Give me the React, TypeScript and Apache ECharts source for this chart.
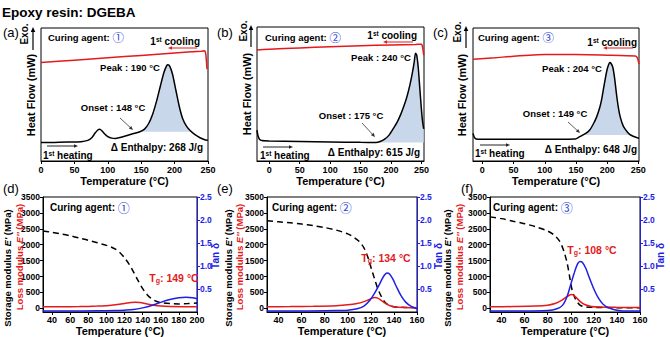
import React, { useEffect, useRef } from "react";
import * as echarts from "echarts";

const SANS = "'Liberation Sans', Arial, Helvetica, sans-serif";
const CJK = "'Noto Sans CJK SC', 'DejaVu Sans', sans-serif";
const RED = "#e41a1c";
const BLUE = "#1e1ee6";
const MARK_BLUE = "#2c44d6";
const FILL = "#c8d8ea";
const ARROW_GREY = "#333333";

// ---------- DSC: first heating / first cooling (temperature °C, heat flow a.u.) ----------
const dscHeatingA = [
  [0, 14], [20, 14], [40, 14.2], [60, 14.5], [70, 15.5], [76, 17.5], [81, 21], [85, 23.3],
  [88, 23.8], [91, 22.8], [95, 20.5], [100, 18.3], [106, 17.2], [112, 17], [120, 17.8],
  [130, 19.3], [140, 20.8], [148, 22], [155, 24], [161, 28], [167, 35], [173, 45], [179, 57],
  [184, 66.5], [188, 71.5], [190, 72.3], [193, 71], [197, 65], [202, 53], [207, 41], [212, 32],
  [218, 26], [224, 22.5], [230, 20], [238, 17.5], [245, 16], [250, 15.5],
];
const dscCoolingA = [
  [0, 74], [50, 75.8], [100, 77.6], [150, 79.4], [200, 81.2], [240, 82.6], [245, 82.9],
  [246.5, 81], [247.5, 76], [248.5, 69],
];
const dscHeatingB = [
  [-20, 23], [-18.5, 19], [-16, 16.3], [-12, 15.3], [0, 15], [50, 14.6], [100, 14.2], [150, 13.9],
  [175, 13.8], [182, 14.5], [190, 16.5], [197, 19.5], [204, 24.5], [210, 29], [216, 35], [221, 41],
  [226, 48], [231, 57], [235, 66], [238, 74], [240, 80.5], [242, 79], [244.5, 70], [247, 55],
  [249.5, 40], [251.5, 30], [253.5, 24],
];
const dscCoolingB = [
  [-20, 82.9], [0, 83.4], [50, 84.4], [100, 85.3], [150, 86], [200, 86.6], [240, 87], [250, 87.1],
  [252, 84], [253.5, 79],
];
const dscHeatingC = [
  [-15, 20.8], [-13, 18], [-10, 16.6], [0, 16.3], [50, 16.3], [100, 16.3], [149, 16.5], [156, 18.3],
  [165, 20.5], [172, 23.3], [178, 28], [183, 33], [188, 40], [191, 46], [194, 54], [197, 62],
  [200, 69], [202, 72], [204, 74], [206, 73.5], [209, 70.5], [212, 62], [215, 50], [218, 40],
  [221, 33], [226, 26], [232, 22], [236, 20], [240, 19], [251, 17],
];
const dscCoolingC = [
  [-15, 76.5], [20, 77.6], [50, 78.8], [100, 80], [150, 80], [200, 79.6], [245, 79], [248, 78],
  [250, 75], [251, 73],
];

// integration windows [from, to] and their baselines for the shaded enthalpy areas
const enthalpyWindows = [[148, 225], [175, 253.5], [155, 236]];
const enthalpyBaselines = [22, 13.8, 19.5];

const dscPeaks = [190, 240, 204];
const dscOnsets = [148, 175, 149];
const dscEnthalpies = [268, 615, 648];
const dscTempRanges = [[0, 250], [-20, 254], [-15, 251]];
const dscTempTicks = [0, 50, 100, 150, 200, 250];

// ---------- DMA: storage modulus, loss modulus (MPa) and tan δ ----------
const storageD = [
  [30, 2430], [40, 2390], [50, 2340], [60, 2280], [70, 2210], [80, 2140], [90, 2060], [100, 1980],
  [105, 1930], [110, 1860], [115, 1750], [120, 1590], [125, 1390], [130, 1140], [135, 870],
  [140, 620], [145, 430], [150, 300], [155, 225], [160, 180], [170, 150], [180, 140], [190, 150],
  [200, 170],
];
const lossD = [
  [30, 50], [50, 50], [70, 55], [90, 70], [100, 85], [110, 110], [120, 150], [127, 185], [132, 195],
  [137, 180], [145, 140], [152, 100], [160, 70], [170, 55], [185, 50], [200, 50],
];
const tanD = [
  [30, 0.02], [60, 0.02], [90, 0.025], [110, 0.03], [120, 0.04], [130, 0.055], [140, 0.09],
  [150, 0.14], [160, 0.21], [170, 0.27], [180, 0.31], [188, 0.32], [195, 0.31], [200, 0.29],
];
const storageE = [
  [30, 2750], [40, 2720], [50, 2690], [60, 2650], [70, 2600], [80, 2540], [90, 2460], [100, 2340],
  [105, 2240], [110, 2100], [114, 1900], [117, 1650], [120, 1300], [123, 950], [126, 620],
  [129, 380], [132, 200], [136, 90], [140, 50], [150, 30], [160, 20],
];
const lossE = [
  [30, 50], [50, 55], [70, 65], [90, 85], [100, 110], [108, 150], [114, 210], [118, 270], [121, 320],
  [123.5, 340], [126, 320], [129, 250], [132, 170], [136, 90], [140, 50], [150, 25], [160, 15],
];
const tanE = [
  [30, 0.02], [60, 0.02], [90, 0.03], [100, 0.04], [108, 0.07], [114, 0.13], [119, 0.25],
  [123, 0.4], [127, 0.58], [130, 0.73], [132, 0.81], [134, 0.85], [136, 0.83], [139, 0.72],
  [142, 0.56], [146, 0.36], [150, 0.22], [155, 0.12], [160, 0.07],
];
const storageF = [
  [30, 2875], [40, 2820], [50, 2740], [60, 2660], [70, 2560], [80, 2430], [85, 2320], [90, 2130],
  [93, 1900], [95, 1680], [97, 1400], [99, 1000], [101, 600], [103, 380], [105, 230], [108, 100],
  [112, 50], [120, 30], [140, 20], [160, 15],
];
const lossF = [
  [30, 50], [50, 55], [70, 70], [80, 100], [87, 160], [92, 250], [96, 350], [99, 420], [100.5, 435],
  [102, 420], [105, 330], [108, 220], [112, 120], [118, 60], [125, 40], [140, 30], [160, 25],
];
const tanF = [
  [30, 0.02], [60, 0.02], [80, 0.03], [88, 0.07], [93, 0.15], [97, 0.35], [100, 0.6], [103, 0.85],
  [106, 1.05], [108, 1.1], [110, 1.08], [113, 0.95], [116, 0.75], [120, 0.5], [124, 0.3],
  [128, 0.17], [133, 0.09], [140, 0.04], [150, 0.02], [160, 0.02],
];

const tgValues = [149, 134, 108];
const dmaTempRanges = [[30, 200], [30, 160], [30, 160]];
const dmaTempTicks = [
  [40, 60, 80, 100, 120, 140, 160, 180, 200],
  [40, 60, 80, 100, 120, 140, 160],
  [40, 60, 80, 100, 120, 140, 160],
];
const modulusTicks = [0, 500, 1000, 1500, 2000, 2500, 3000, 3500];
const tanTicks = [0.5, 1.0, 1.5, 2.0, 2.5];
const circled = ["①", "②", "③"];

const dscGrids = [
  { left: 41, top: 28, width: 167, height: 133 },
  { left: 257, top: 27, width: 167, height: 134 },
  { left: 473, top: 28, width: 166, height: 133 },
];
const dmaGrids = [
  { left: 43, top: 197, width: 154, height: 116 },
  { left: 267, top: 197, width: 150, height: 116 },
  { left: 490, top: 197, width: 150, height: 116 },
];

const tickFont = { fontSize: 9, fontWeight: "bold", fontFamily: SANS, color: "#000" };
const titleFont = { fontSize: 11, fontWeight: "bold", fontFamily: SANS, color: "#000" };

function label(x: number, y: number, text: string, o: any = {}) {
  return {
    type: "text",
    x,
    y,
    rotation: o.rotation || 0,
    silent: true,
    z: 100,
    style: {
      text,
      fill: o.color || "#000",
      fontSize: o.size || 10,
      fontWeight: o.weight || "bold",
      fontFamily: SANS,
      align: o.align || "left",
      verticalAlign: "middle",
      rich: o.rich,
    },
  };
}

function arrow(x1: number, y1: number, x2: number, y2: number, color: string, w = 1, head = 4) {
  const a = Math.atan2(y2 - y1, x2 - x1);
  const hx = x2 - head * Math.cos(a);
  const hy = y2 - head * Math.sin(a);
  const px = -Math.sin(a) * head * 0.45;
  const py = Math.cos(a) * head * 0.45;
  return [
    { type: "line", silent: true, z: 100, shape: { x1, y1, x2: hx, y2: hy }, style: { stroke: color, lineWidth: w } },
    {
      type: "polygon",
      silent: true,
      z: 100,
      shape: { points: [[x2, y2], [hx + px, hy + py], [hx - px, hy - py]] },
      style: { fill: color },
    },
  ];
}

const supRich = {
  n: { fontSize: 10, fontWeight: "bold", fontFamily: SANS, fill: "#000" },
  s: { fontSize: 6.5, fontWeight: "bold", fontFamily: SANS, fill: "#000", verticalAlign: "top" },
};
const agentRich = (size: number) => ({
  c: { fontSize: size + 2, fontFamily: CJK, fill: MARK_BLUE, fontWeight: "normal" },
});
const tgRich = {
  t: { fontSize: 10.5, fontWeight: "bold", fontFamily: SANS, fill: RED },
  g: { fontSize: 7, fontWeight: "bold", fontFamily: SANS, fill: RED, verticalAlign: "bottom" },
};

function buildOption() {
  const grid: any[] = [];
  const xAxis: any[] = [];
  const yAxis: any[] = [];
  const series: any[] = [];
  const graphic: any[] = [];

  const dscHeating = [dscHeatingA, dscHeatingB, dscHeatingC];
  const dscCooling = [dscCoolingA, dscCoolingB, dscCoolingC];

  dscGrids.forEach((g, i) => {
    grid.push({ ...g, show: true, borderColor: "#000", borderWidth: 1, backgroundColor: "transparent" });
    xAxis.push({
      type: "value",
      gridIndex: i,
      min: dscTempRanges[i][0],
      max: dscTempRanges[i][1],
      axisLine: { show: true, onZero: false, lineStyle: { color: "#000", width: 1 } },
      axisTick: { show: true, length: 3, customValues: dscTempTicks, lineStyle: { color: "#000" } },
      axisLabel: { ...tickFont, margin: 4, customValues: dscTempTicks },
      splitLine: { show: false },
      name: "Temperature (°C)",
      nameLocation: "middle",
      nameGap: 14,
      nameTextStyle: titleFont,
    });
    yAxis.push({ type: "value", gridIndex: i, min: 0, max: 100, show: false });

    // shaded reaction enthalpy: area between the heating curve and its baseline
    const [t0, t1] = enthalpyWindows[i];
    const base = enthalpyBaselines[i];
    const inWin = dscHeating[i].filter((p) => p[0] >= t0 && p[0] <= t1);
    series.push({
      type: "custom",
      xAxisIndex: i,
      yAxisIndex: i,
      data: [[t0, base]],
      silent: true,
      z: 1,
      renderItem: (_params: any, api: any) => {
        const top = inWin.map((p) => api.coord([p[0], Math.max(p[1], base)]));
        const bottom = [api.coord([inWin[inWin.length - 1][0], base]), api.coord([inWin[0][0], base])];
        return {
          type: "polygon",
          shape: { points: [...top, ...bottom] },
          style: { fill: FILL },
        };
      },
    });
    series.push({
      type: "line",
      xAxisIndex: i,
      yAxisIndex: i,
      data: dscHeating[i],
      showSymbol: false,
      smooth: 0.2,
      lineStyle: { color: "#000", width: 1.5 },
      silent: true,
      z: 3,
    });
    series.push({
      type: "line",
      xAxisIndex: i,
      yAxisIndex: i,
      data: dscCooling[i],
      showSymbol: false,
      smooth: 0.2,
      lineStyle: { color: RED, width: 1.5 },
      silent: true,
      z: 3,
    });
  });

  const storage = [storageD, storageE, storageF];
  const loss = [lossD, lossE, lossF];
  const tan = [tanD, tanE, tanF];

  dmaGrids.forEach((g, j) => {
    const gi = 3 + j;
    grid.push({ ...g, show: true, borderColor: "#000", borderWidth: 1, backgroundColor: "transparent" });
    xAxis.push({
      type: "value",
      gridIndex: gi,
      min: dmaTempRanges[j][0],
      max: dmaTempRanges[j][1],
      axisLine: { show: true, onZero: false, lineStyle: { color: "#000", width: 1 } },
      axisTick: { show: true, length: 3, customValues: dmaTempTicks[j], lineStyle: { color: "#000" } },
      axisLabel: { ...tickFont, margin: 3, customValues: dmaTempTicks[j] },
      splitLine: { show: false },
      name: "Temperature (°C)",
      nameLocation: "middle",
      nameGap: 13,
      nameTextStyle: titleFont,
    });
  });
  dmaGrids.forEach((g, j) => {
    yAxis.push({
      type: "value",
      gridIndex: 3 + j,
      position: "left",
      min: -115,
      max: 3500,
      axisLine: { show: true, onZero: false, lineStyle: { color: "#000", width: 1 } },
      axisTick: { show: true, length: 3, customValues: modulusTicks, lineStyle: { color: "#000" } },
      axisLabel: {
        ...tickFont,
        fontSize: 8.5,
        margin: 3,
        customValues: modulusTicks,
        formatter: (v: number) => String(v),
      },
      splitLine: { show: false },
    });
  });
  dmaGrids.forEach((g, j) => {
    yAxis.push({
      type: "value",
      gridIndex: 3 + j,
      position: "right",
      min: 0,
      max: 2.5,
      axisLine: { show: true, onZero: false, lineStyle: { color: BLUE, width: 1 } },
      axisTick: { show: true, length: 3, customValues: tanTicks, lineStyle: { color: BLUE } },
      axisLabel: {
        ...tickFont,
        fontSize: 8.5,
        color: BLUE,
        margin: 3,
        customValues: tanTicks,
        formatter: (v: number) => v.toFixed(1),
      },
      splitLine: { show: false },
    });
  });
  dmaGrids.forEach((g, j) => {
    series.push({
      type: "line",
      xAxisIndex: 3 + j,
      yAxisIndex: 3 + j,
      data: storage[j],
      showSymbol: false,
      smooth: 0.3,
      lineStyle: { color: "#000", width: 1.5, type: [6, 4] },
      silent: true,
      z: 3,
    });
    series.push({
      type: "line",
      xAxisIndex: 3 + j,
      yAxisIndex: 3 + j,
      data: loss[j],
      showSymbol: false,
      smooth: 0.3,
      lineStyle: { color: RED, width: 1.5 },
      silent: true,
      z: 4,
    });
    series.push({
      type: "line",
      xAxisIndex: 3 + j,
      yAxisIndex: 6 + j,
      data: tan[j],
      showSymbol: false,
      smooth: 0.3,
      lineStyle: { color: BLUE, width: 1.5 },
      silent: true,
      z: 5,
    });
  });

  // ---- headings and panel letters ----
  graphic.push(label(2, 12, "Epoxy resin: DGEBA", { size: 13.5 }));
  const letters = [
    ["(a)", 3, 32], ["(b)", 217, 32], ["(c)", 433, 32],
    ["(d)", 3, 188], ["(e)", 217, 188], ["(f)", 461, 188],
  ];
  letters.forEach(([t, x, y]) => graphic.push(label(x as number, y as number, t as string, { size: 13, weight: "normal" })));

  // ---- DSC annotations ----
  const dscText = [
    {
      agent: [48, 37], peak: [130, 67], onset: [113, 107], enth: [203, 147], heat: [43, 155], cool: [200, 41],
      onsetArrow: [120, 118, 133, 130], heatArrow: [47, 146, 78, 146], coolArrow: [197, 48, 168, 48],
      exo: [24, 34], exoArrow: [33, 50, 33, 27], flow: [31, 95],
    },
    {
      agent: [265, 37], peak: [381, 57], onset: [351, 115], enth: [420, 152], heat: [260, 155], cool: [417, 35],
      onsetArrow: [362, 123, 375, 137], heatArrow: [263, 147, 293, 147], coolArrow: [413, 42, 383, 42],
      exo: [243, 31], exoArrow: [251, 47, 251, 25], flow: [247, 94],
    },
    {
      agent: [478, 37], peak: [572, 68], onset: [555, 113], enth: [637, 149], heat: [475, 153], cool: [637, 42],
      onsetArrow: [568, 122, 580, 133], heatArrow: [480, 145, 510, 145], coolArrow: [633, 48, 603, 48],
      exo: [457, 32], exoArrow: [466, 48, 466, 26], flow: [462, 95],
    },
  ];
  dscText.forEach((p, i) => {
    graphic.push(label(p.agent[0], p.agent[1], `Curing agent: {c|${circled[i]}}`, { size: 9.5, rich: agentRich(9.5) }));
    graphic.push(label(p.peak[0], p.peak[1], `Peak : ${dscPeaks[i]} °C`, { size: 9.5, align: "center" }));
    graphic.push(label(p.onset[0], p.onset[1], `Onset : ${dscOnsets[i]} °C`, { size: 9.5, align: "center" }));
    graphic.push(label(p.enth[0], p.enth[1], `Δ Enthalpy: ${dscEnthalpies[i]} J/g`, { size: 10, align: "right" }));
    graphic.push(label(p.heat[0], p.heat[1], "{n|1}{s|st}{n| heating}", { size: 10, rich: supRich }));
    graphic.push(label(p.cool[0], p.cool[1], "{n|1}{s|st}{n| cooling}", { size: 10, align: "right", rich: supRich }));
    const [a1, a2, a3, a4] = p.onsetArrow;
    graphic.push(...arrow(a1, a2, a3, a4, ARROW_GREY, 0.8, 4));
    const [h1, h2, h3, h4] = p.heatArrow;
    graphic.push(...arrow(h1, h2, h3, h4, "#222", 1, 4));
    const [c1, c2, c3, c4] = p.coolArrow;
    graphic.push(...arrow(c1, c2, c3, c4, RED, 1, 4));
    const [e1, e2, e3, e4] = p.exoArrow;
    graphic.push(...arrow(e1, e2, e3, e4, "#000", 1.2, 5));
    graphic.push(label(p.exo[0], p.exo[1], "Exo.", { size: 10, align: "center", rotation: Math.PI / 2 }));
    graphic.push(label(p.flow[0], p.flow[1], "Heat Flow (mW)", { size: 11, align: "center", rotation: Math.PI / 2 }));
  });

  // ---- DMA annotations ----
  const dmaText = [
    { agent: [50, 207], tg: [174, 278], storageTitle: 7, lossTitle: 19, tanTitle: 215 },
    { agent: [272, 207], tg: [386, 258], storageTitle: 228, lossTitle: 239, tanTitle: 438 },
    { agent: [493, 207], tg: [592, 250], storageTitle: 447, lossTitle: 459, tanTitle: 660 },
  ];
  const modRich = (color: string) => ({
    i: { fontSize: 9.5, fontWeight: "bold", fontStyle: "italic", fontFamily: SANS, fill: color },
  });
  dmaText.forEach((p, j) => {
    graphic.push(label(p.agent[0], p.agent[1], `Curing agent: {c|${circled[j]}}`, { size: 10, rich: agentRich(10) }));
    graphic.push(label(p.tg[0], p.tg[1], `{t|T}{g|g}{t|: ${tgValues[j]} °C}`, { size: 10.5, align: "center", rich: tgRich }));
    graphic.push(
      label(p.storageTitle, 268, "Storage modulus {i|E'} (MPa)", {
        size: 9.5, align: "center", rotation: Math.PI / 2, rich: modRich("#000"),
      })
    );
    graphic.push(
      label(p.lossTitle, 257, "Loss modulus {i|E''} (MPa)", {
        size: 9.5, align: "center", color: RED, rotation: Math.PI / 2, rich: modRich(RED),
      })
    );
    graphic.push(label(p.tanTitle, 256, "Tan δ", { size: 10, align: "center", color: BLUE, rotation: Math.PI / 2 }));
  });

  return { animation: false, backgroundColor: "#fff", grid, xAxis, yAxis, series, graphic };
}

export default function App() {
  const ref = useRef<HTMLDivElement>(null);
  useEffect(() => {
    if (!ref.current) return;
    const chart = echarts.init(ref.current, undefined, { renderer: "svg" });
    chart.setOption(buildOption() as any);
    return () => chart.dispose();
  }, []);
  return (
    <div
      ref={ref}
      style={{ position: "absolute", left: 0, top: 0, width: 670, height: 337, background: "#fff" }}
    />
  );
}
